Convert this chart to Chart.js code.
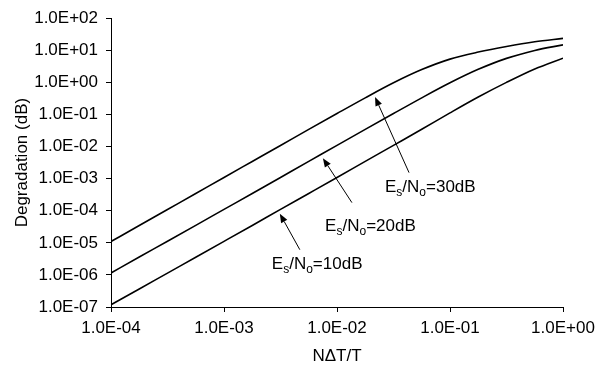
<!DOCTYPE html>
<html><head><meta charset="utf-8">
<script src="https://cdn.jsdelivr.net/npm/chart.js@4.4.1/dist/chart.umd.min.js"></script>
<style>html,body{margin:0;padding:0;background:#fff}#wrap{width:606px;height:365px;position:relative}</style>
</head><body><div id="wrap"><canvas id="c" width="606" height="365"></canvas></div>
<script>
// N·ΔT/T values (x)
const xValues = [1e-4, 1.778e-4, 3.162e-4, 5.623e-4, 1e-3, 1.778e-3, 3.162e-3, 5.623e-3, 1e-2, 1.778e-2, 3.162e-2, 5.623e-2, 0.1, 0.1778, 0.3162, 0.5623, 1];
// Degradation (dB) per curve
const degr30 = [1.1e-5, 3.45e-5, 1.09e-4, 3.44e-4, 1.09e-3, 3.43e-3, 1.08e-2, 3.42e-2, 0.107, 0.33, 0.97, 2.5, 5.3, 8.8, 13.2, 18.5, 23.5];
const degr20 = [1.15e-6, 3.6e-6, 1.12e-5, 3.5e-5, 1.1e-4, 3.45e-4, 1.09e-3, 3.44e-3, 1.09e-2, 3.43e-2, 0.107, 0.33, 0.97, 2.55, 5.6, 9.9, 14.8];
const degr10 = [1.18e-7, 3.65e-7, 1.14e-6, 3.55e-6, 1.11e-5, 3.48e-5, 1.1e-4, 3.46e-4, 1.09e-3, 3.45e-3, 1.09e-2, 3.45e-2, 0.112, 0.35, 1.0, 2.62, 5.7];
const seriesNames = ['Es/No=30dB', 'Es/No=20dB', 'Es/No=10dB'];
const yTickValues = [1e-7, 1e-6, 1e-5, 1e-4, 1e-3, 1e-2, 1e-1, 1, 10, 100];
const yTickLabels = ['1.0E-07', '1.0E-06', '1.0E-05', '1.0E-04', '1.0E-03', '1.0E-02', '1.0E-01', '1.0E+00', '1.0E+01', '1.0E+02'];
const xTickValues = [1e-4, 1e-3, 1e-2, 1e-1, 1];
const xTickLabels = ['1.0E-04', '1.0E-03', '1.0E-02', '1.0E-01', '1.0E+00'];
const xTitle = 'NΔT/T';
const yTitle = 'Degradation (dB)';
// annotations (data coordinates)
const annoValues = ['30dB', '20dB', '10dB'];
const annoHeads = [[0.0217, 0.351], [7.5e-3, 4.35e-3], [3.12e-3, 8.1e-5]];
const annoTails = [[0.0434, 1.54e-3], [0.01355, 1.79e-4], [4.69e-3, 6.1e-6]];
const annoTextAt = [[0.0266, 5.2e-4], [7.85e-3, 3.2e-5], [2.65e-3, 2.09e-6]];

const FONT = '"Liberation Sans", Arial, sans-serif';
const FS = 17;

function labelFor(values, labels, v) {
  for (let i = 0; i < values.length; i++) {
    if (Math.abs(Math.log10(values[i]) - Math.log10(v)) < 1e-6) return labels[i];
  }
  return '';
}

const annoPlugin = {
  id: 'anno',
  afterDatasetsDraw(chart) {
    const ctx = chart.ctx, xs = chart.scales.x, ys = chart.scales.y;
    ctx.save();
    ctx.strokeStyle = '#000'; ctx.fillStyle = '#000'; ctx.lineWidth = 1;
    for (let i = 0; i < annoValues.length; i++) {
      const hx = xs.getPixelForValue(annoHeads[i][0]), hy = ys.getPixelForValue(annoHeads[i][1]);
      const tx = xs.getPixelForValue(annoTails[i][0]), ty = ys.getPixelForValue(annoTails[i][1]);
      const ang = Math.atan2(hy - ty, hx - tx);
      const L = 9, W = 3.5;
      const bx = hx - L * Math.cos(ang), by = hy - L * Math.sin(ang);
      ctx.beginPath(); ctx.moveTo(tx, ty); ctx.lineTo(bx, by); ctx.stroke();
      ctx.beginPath();
      ctx.moveTo(hx, hy);
      ctx.lineTo(bx + W * Math.sin(ang), by - W * Math.cos(ang));
      ctx.lineTo(bx - W * Math.sin(ang), by + W * Math.cos(ang));
      ctx.closePath(); ctx.fill();
      // text
      let x = xs.getPixelForValue(annoTextAt[i][0]);
      const y = ys.getPixelForValue(annoTextAt[i][1]);
      ctx.textBaseline = 'middle'; ctx.textAlign = 'left';
      const parts = [['E', false], ['s', true], ['/N', false], ['o', true], ['=' + annoValues[i], false]];
      for (const [t, sub] of parts) {
        ctx.font = (sub ? 12 : FS) + 'px ' + FONT;
        ctx.fillText(t, x, sub ? y + 5 : y);
        x += ctx.measureText(t).width;
      }
    }
    ctx.restore();
  }
};

const mk = arr => xValues.map((x, i) => ({ x: x, y: arr[i] }));
const lineStyle = { borderColor: '#000', borderWidth: 1.6, pointRadius: 0, fill: false, cubicInterpolationMode: 'monotone' };

new Chart(document.getElementById('c'), {
  type: 'line',
  data: {
    datasets: [
      Object.assign({ label: seriesNames[0], data: mk(degr30) }, lineStyle),
      Object.assign({ label: seriesNames[1], data: mk(degr20) }, lineStyle),
      Object.assign({ label: seriesNames[2], data: mk(degr10) }, lineStyle)
    ]
  },
  options: {
    responsive: false, animation: false, devicePixelRatio: 1,
    layout: { padding: { top: 18, right: 43, left: 0, bottom: 0 } },
    plugins: { legend: { display: false }, tooltip: { enabled: false } },
    scales: {
      x: {
        type: 'logarithmic', min: 1e-4, max: 1,
        afterBuildTicks: s => { s.ticks = xTickValues.map(v => ({ value: v })); },
        afterFit: s => { s.height = 58; },
        ticks: { callback: v => labelFor(xTickValues, xTickLabels, v), autoSkip: false, maxRotation: 0, color: '#000', font: { family: FONT, size: FS }, padding: 6 },
        grid: { display: true, drawOnChartArea: false, drawTicks: true, tickLength: 5, tickColor: '#000', lineWidth: 1 },
        border: { display: true, color: '#000', width: 1 },
        title: { display: true, text: xTitle, color: '#000', font: { family: FONT, size: FS, lineHeight: 1 }, padding: { top: 0, bottom: 0 } }
      },
      y: {
        type: 'logarithmic', min: 1e-7, max: 100,
        afterBuildTicks: s => { s.ticks = yTickValues.map(v => ({ value: v })); },
        afterFit: s => { s.width = 111; },
        ticks: { callback: v => labelFor(yTickValues, yTickLabels, v), autoSkip: false, color: '#000', font: { family: FONT, size: FS }, padding: 8 },
        grid: { display: true, drawOnChartArea: false, drawTicks: true, tickLength: 5, tickColor: '#000', lineWidth: 1 },
        border: { display: true, color: '#000', width: 1 },
        title: { display: true, text: yTitle, color: '#000', font: { family: FONT, size: FS }, padding: { top: 12, bottom: 0 } }
      }
    }
  },
  plugins: [annoPlugin]
});
</script></body></html>
